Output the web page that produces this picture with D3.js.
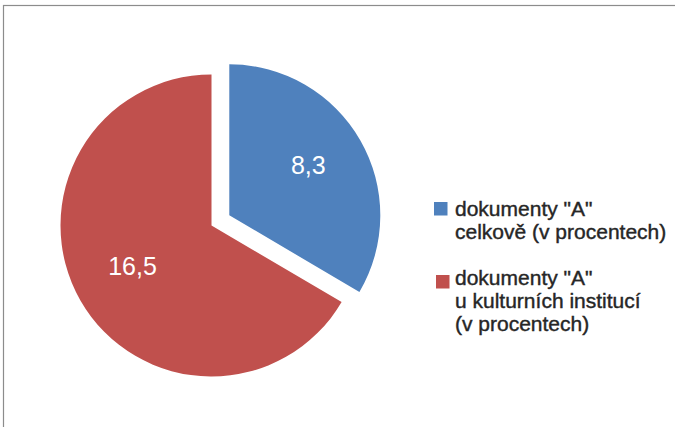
<!DOCTYPE html>
<html>
<head>
<meta charset="utf-8">
<script src="https://cdn.jsdelivr.net/npm/d3@7"></script>
<style>
  html, body { margin: 0; padding: 0; background: #fff; }
  svg { display: block; }
</style>
</head>
<body>
<svg id="chart" width="675" height="427"></svg>
<script>
// Chart data
const categories = ["celkem", "kulturní instituce"]
const values = [8.3, 16.5]
const valueLabels = ["8,3", "16,5"]
const legendLines = [
  ['dokumenty "A"', "celkově (v procentech)"],
  ['dokumenty "A"', "u kulturních institucí", "(v procentech)"]
]

const colours = ["#4F81BD", "#C0504D"]

let svg = d3.select("#chart")

// Frame (only top and left edges are inside the picture)
svg.append("rect")
  .attr("x", 3.5)
  .attr("y", 5.5)
  .attr("width", 720)
  .attr("height", 500)
  .attr("fill", "none")
  .attr("stroke", "#8c8c8c")
  .attr("stroke-width", 1.2)

// Pie layout
let centre = [211.5, 225.5]
let radius = 151
let explode = [20.5, 0]

let pie = d3.pie()
  .sort(null)
  .value(d => d.value)

let arcs = pie(categories.map((c, i) => ({ name: c, value: values[i], label: valueLabels[i], i })))

let arc = d3.arc()
  .innerRadius(0)
  .outerRadius(radius)

let labelArc = d3.arc()
  .innerRadius(91)
  .outerRadius(91)

function offset(d) {
  let mid = (d.startAngle + d.endAngle) / 2
  let e = explode[d.data.i]
  return [centre[0] + e * Math.sin(mid), centre[1] - e * Math.cos(mid)]
}

let slices = svg.append("g")
  .attr("class", "slices")
  .selectAll("g.slice")
  .data(arcs)
  .join("g")
  .attr("class", "slice")
  .attr("transform", d => `translate(${offset(d)})`)

slices.append("path")
  .attr("d", arc)
  .attr("fill", d => colours[d.data.i])

slices.append("text")
  .attr("transform", d => {
    let [x, y] = labelArc.centroid(d)
    return `translate(${x}, ${y - 5})`
  })
  .attr("text-anchor", "middle")
  .attr("dy", "0.36em")
  .attr("fill", "#fff")
  .style("font-family", "'Liberation Sans', Arial, sans-serif")
  .style("font-size", "25px")
  .text(d => d.data.label)

// Legend
let legendPos = [
  { x: 434, y: 202, textY: 216 },
  { x: 436, y: 275, textY: 285 }
]

let legend = svg.append("g")
  .attr("class", "legend")
  .selectAll("g.entry")
  .data(legendLines)
  .join("g")
  .attr("class", "entry")

legend.append("rect")
  .attr("x", (d, i) => legendPos[i].x)
  .attr("y", (d, i) => legendPos[i].y)
  .attr("width", 13.5)
  .attr("height", 13.5)
  .attr("fill", (d, i) => colours[i])

legend.append("text")
  .attr("x", 455)
  .attr("y", (d, i) => legendPos[i].textY)
  .attr("fill", "#262626")
  .attr("stroke", "#262626")
  .attr("stroke-width", 0.4)
  .style("font-family", "'Liberation Sans', Arial, sans-serif")
  .style("font-size", "21px")
  .selectAll("tspan")
  .data(d => d)
  .join("tspan")
  .attr("x", 455)
  .attr("dy", (d, i) => i === 0 ? 0 : 22.8)
  .text(d => d)
</script>
</body>
</html>
